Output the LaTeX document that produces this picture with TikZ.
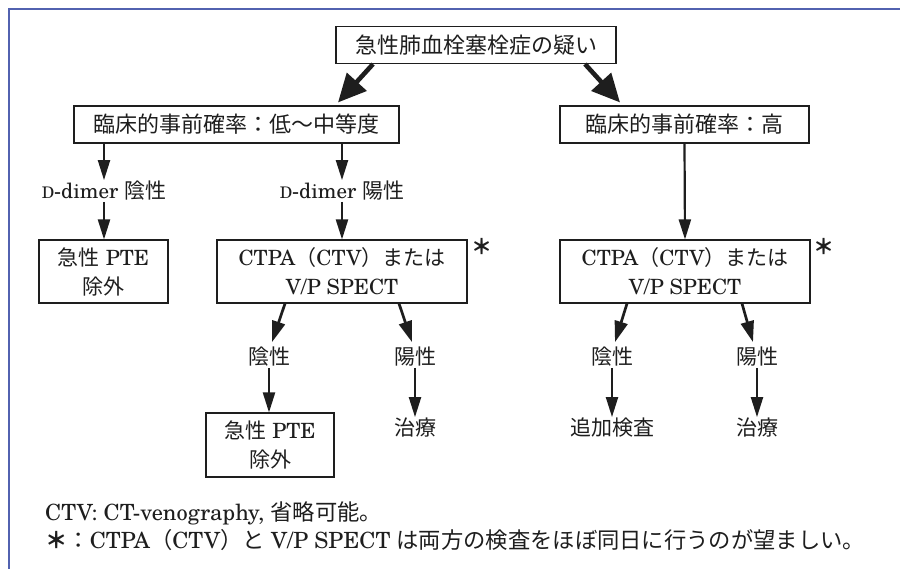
\documentclass[tikz,border=0pt]{standalone}
\usepackage{fontspec}
\setmainfont{TeX Gyre Schola}
\newfontfamily\jpfont{Noto Sans CJK JP}
\usetikzlibrary{arrows.meta}
\newcommand\jj[1]{{\jpfont #1}}
\newcommand\smD{{\fontsize{16}{16}\selectfont D}}
\definecolor{ink}{HTML}{1E1E1E}
\definecolor{framecol}{HTML}{5262B0}
\begin{document}
\begin{tikzpicture}[x=1pt,y=-1pt,
  box/.style={draw=ink, line width=1.1pt, inner sep=0pt, align=center, text=ink, font=\fontsize{21}{29}\selectfont},
  lbl/.style={inner sep=1pt, text=ink, font=\fontsize{21}{29}\selectfont},
  note/.style={inner sep=0pt, anchor=west, text=ink, font=\fontsize{22.3}{27}\selectfont},
  astr/.style={inner sep=0pt, text=ink, font=\fontsize{21}{21}\selectfont},
  arr/.style={draw=ink, line width=2.2pt, -{Triangle[length=20pt,width=12pt]}},
  darr/.style={draw=ink, line width=2.7pt, -{Triangle[length=21pt,width=13pt]}},
  bigarr/.style={draw=ink, line width=4.6pt, -{Triangle[length=28pt,width=26pt]}}]
\useasboundingbox (0,0) rectangle (900,568);
\fill[white] (0,0) rectangle (900,568);
\draw[framecol, line width=2pt] (8.5,580) -- (8.5,9) -- (910,9);

\node[box, minimum width=280pt, minimum height=37pt] (top) at (476,45) {\jj{\fontsize{22}{29}\selectfont 急性肺血栓塞栓症の疑い}};
\node[box, minimum width=325pt, minimum height=37pt] (lowmid) at (236.5,124.5) {\jj{\fontsize{22}{29}\selectfont 臨床的事前確率：低〜中等度}};
\node[box, minimum width=249pt, minimum height=37pt] (high) at (684.5,124.5) {\jj{\fontsize{22}{29}\selectfont 臨床的事前確率：高}};

\node[lbl] (dneg) at (104,191) {\smD-dimer \jj{陰性}};
\node[lbl] (dpos) at (342,191) {\smD-dimer \jj{陽性}};

\node[box, minimum width=129pt, minimum height=63pt] (pte1) at (103.5,271.5) {\jj{急性} PTE\\\jj{除外}};
\node[box, minimum width=250pt, minimum height=63pt] (ctpa1) at (342,271.5) {CTPA\jj{（}CTV\jj{）または}\\V/P SPECT};
\node[box, minimum width=250pt, minimum height=63pt] (ctpa2) at (685,271.5) {CTPA\jj{（}CTV\jj{）または}\\V/P SPECT};
\node[astr] (ast1) at (482,247) {\jpfont\bfseries ＊};
\node[astr] (ast2) at (824,247) {\jpfont\bfseries ＊};

\node[lbl] (neg1) at (269,357) {\jj{陰性}};
\node[lbl] (pos1) at (415,357) {\jj{陽性}};
\node[lbl] (neg2) at (612,357) {\jj{陰性}};
\node[lbl] (pos2) at (757,357) {\jj{陽性}};

\node[box, minimum width=128pt, minimum height=64pt] (pte2) at (270,445) {\jj{急性} PTE\\\jj{除外}};
\node[lbl] (tre1) at (415,428) {\jj{治療}};
\node[lbl] (add2) at (612,428) {\jj{追加検査}};
\node[lbl] (tre2) at (757,428) {\jj{治療}};

\node[note] (n1) at (45,513) {CTV: CT-venography, \jj{省略可能。}};
\node[note] (n2) at (45,540) {{\jpfont\bfseries ＊}\jj{：}CTPA\jj{（}CTV\jj{）と} V/P SPECT \jj{は両方の検査をほぼ同日に行うのが望ましい。}};

\draw[bigarr] ([xshift=-103pt]top.south) -- ([xshift=101.5pt,yshift=3pt]lowmid.north);
\draw[bigarr] ([xshift=109pt]top.south) -- ([xshift=-64.5pt,yshift=3pt]high.north);
\draw[arr] (lowmid.south -| dneg) -- (dneg.north);
\draw[arr] (lowmid.south -| dpos) -- (dpos.north);
\draw[arr] (dneg.south) -- (dneg.south |- pte1.north);
\draw[arr] (dpos.south) -- (ctpa1.north);
\draw[arr] (high.south) -- (ctpa2.north);
\draw[darr] ([xshift=-57pt]ctpa1.south) -- ([xshift=3pt,yshift=4pt]neg1.north);
\draw[darr] ([xshift=57pt]ctpa1.south) -- ([xshift=-3pt,yshift=4pt]pos1.north);
\draw[darr] ([xshift=-58pt]ctpa2.south) -- ([xshift=3pt,yshift=4pt]neg2.north);
\draw[darr] ([xshift=57pt]ctpa2.south) -- ([xshift=-4pt,yshift=4pt]pos2.north);
\draw[arr] (neg1.south) -- (neg1.south |- pte2.north);
\draw[arr] (pos1.south) -- (tre1.north);
\draw[arr] (neg2.south) -- (add2.north);
\draw[arr] (pos2.south) -- (tre2.north);
\end{tikzpicture}
\end{document}
